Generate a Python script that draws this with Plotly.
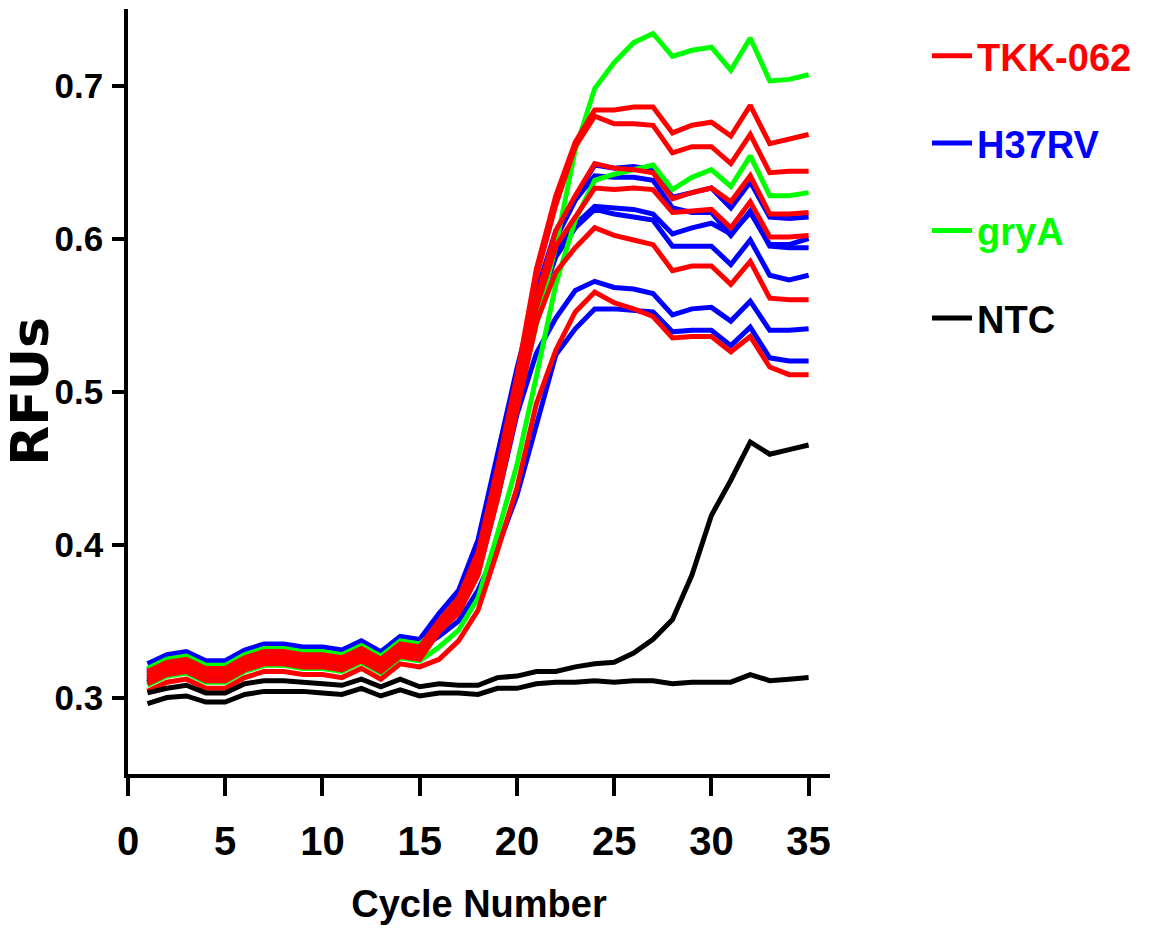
import plotly.graph_objects as go

cycles = list(range(1, 36))

# TKK-062 (red)
tkk_1 = [0.317, 0.323, 0.325, 0.319, 0.319, 0.326, 0.330, 0.330, 0.328, 0.328, 0.326, 0.332, 0.325, 0.335, 0.333,
         0.350, 0.365, 0.395, 0.450, 0.510, 0.580, 0.628, 0.663,
         0.684, 0.684, 0.686, 0.686, 0.669, 0.674, 0.676, 0.667, 0.687, 0.662, 0.665, 0.668]
tkk_2 = [0.315, 0.321, 0.323, 0.317, 0.317, 0.324, 0.328, 0.328, 0.326, 0.326, 0.324, 0.330, 0.323, 0.333, 0.331,
         0.348, 0.362, 0.392, 0.445, 0.505, 0.575, 0.622, 0.660,
         0.680, 0.675, 0.675, 0.674, 0.656, 0.660, 0.660, 0.649, 0.668, 0.643, 0.644, 0.644]
tkk_3 = [0.314, 0.320, 0.322, 0.316, 0.316, 0.323, 0.327, 0.327, 0.325, 0.325, 0.323, 0.329, 0.322, 0.332, 0.330,
         0.346, 0.360, 0.388, 0.440, 0.500, 0.560, 0.605, 0.628,
         0.649, 0.646, 0.645, 0.643, 0.626, 0.630, 0.633, 0.624, 0.641, 0.616, 0.616, 0.617]
tkk_4 = [0.312, 0.318, 0.320, 0.314, 0.314, 0.321, 0.325, 0.325, 0.323, 0.323, 0.321, 0.327, 0.320, 0.330, 0.328,
         0.345, 0.358, 0.385, 0.435, 0.495, 0.555, 0.595, 0.614,
         0.633, 0.632, 0.633, 0.632, 0.617, 0.618, 0.619, 0.607, 0.624, 0.601, 0.601, 0.602]
tkk_5 = [0.309, 0.315, 0.317, 0.311, 0.311, 0.318, 0.322, 0.322, 0.320, 0.320, 0.318, 0.324, 0.317, 0.327, 0.325,
         0.343, 0.355, 0.380, 0.430, 0.488, 0.545, 0.578, 0.594,
         0.607, 0.602, 0.599, 0.596, 0.579, 0.582, 0.582, 0.570, 0.585, 0.561, 0.560, 0.560]
tkk_6 = [0.304, 0.310, 0.312, 0.306, 0.306, 0.313, 0.317, 0.317, 0.315, 0.315, 0.313, 0.319, 0.312, 0.322, 0.320,
         0.325, 0.337, 0.357, 0.396, 0.437, 0.492, 0.527, 0.552,
         0.565, 0.558, 0.554, 0.549, 0.535, 0.536, 0.536, 0.526, 0.536, 0.516, 0.511, 0.511]

# H37RV (blue)
h37_1 = [0.322, 0.328, 0.330, 0.324, 0.324, 0.331, 0.335, 0.335, 0.333, 0.333, 0.331, 0.337, 0.330, 0.340, 0.338,
         0.355, 0.370, 0.403, 0.459, 0.515, 0.565, 0.605, 0.627,
         0.648, 0.646, 0.647, 0.645, 0.627, 0.630, 0.633, 0.620, 0.637, 0.614, 0.613, 0.614]
h37_2 = [0.318, 0.324, 0.326, 0.320, 0.320, 0.327, 0.331, 0.331, 0.329, 0.329, 0.327, 0.333, 0.326, 0.336, 0.334,
         0.350, 0.365, 0.395, 0.450, 0.505, 0.560, 0.600, 0.625,
         0.641, 0.640, 0.640, 0.638, 0.620, 0.617, 0.617, 0.602, 0.618, 0.595, 0.594, 0.594]
h37_3 = [0.311, 0.317, 0.319, 0.313, 0.313, 0.320, 0.324, 0.324, 0.322, 0.322, 0.320, 0.326, 0.319, 0.329, 0.327,
         0.345, 0.362, 0.392, 0.445, 0.500, 0.555, 0.590, 0.609,
         0.621, 0.620, 0.619, 0.616, 0.603, 0.607, 0.610, 0.603, 0.617, 0.596, 0.596, 0.600]
h37_4 = [0.310, 0.316, 0.318, 0.312, 0.312, 0.319, 0.323, 0.323, 0.321, 0.321, 0.319, 0.325, 0.318, 0.328, 0.326,
         0.345, 0.360, 0.390, 0.443, 0.498, 0.552, 0.588, 0.607,
         0.619, 0.616, 0.614, 0.612, 0.595, 0.595, 0.595, 0.583, 0.599, 0.576, 0.573, 0.576]
h37_5 = [0.313, 0.319, 0.321, 0.315, 0.315, 0.322, 0.326, 0.326, 0.324, 0.324, 0.322, 0.328, 0.321, 0.331, 0.329,
         0.345, 0.356, 0.382, 0.430, 0.485, 0.525, 0.548, 0.566,
         0.572, 0.568, 0.567, 0.564, 0.550, 0.554, 0.555, 0.546, 0.559, 0.540, 0.540, 0.541]
h37_6 = [0.316, 0.322, 0.324, 0.318, 0.318, 0.325, 0.329, 0.329, 0.327, 0.327, 0.325, 0.331, 0.324, 0.334, 0.332,
         0.340, 0.350, 0.370, 0.398, 0.432, 0.478, 0.524, 0.541,
         0.554, 0.554, 0.553, 0.552, 0.539, 0.540, 0.540, 0.530, 0.542, 0.522, 0.520, 0.520]

# gryA (green)
gry_1 = [0.319, 0.325, 0.327, 0.321, 0.321, 0.328, 0.332, 0.332, 0.330, 0.330, 0.328, 0.334, 0.327, 0.337, 0.335,
         0.345, 0.356, 0.383, 0.430, 0.492, 0.545, 0.595, 0.658,
         0.698, 0.715, 0.728, 0.734, 0.719, 0.723, 0.725, 0.710, 0.731, 0.703, 0.704, 0.707]
gry_2 = [0.308, 0.314, 0.316, 0.310, 0.310, 0.317, 0.321, 0.321, 0.319, 0.319, 0.317, 0.323, 0.316, 0.326, 0.324,
         0.333, 0.344, 0.365, 0.407, 0.452, 0.510, 0.570, 0.612,
         0.638, 0.642, 0.645, 0.648, 0.632, 0.640, 0.645, 0.634, 0.654, 0.628, 0.628, 0.630]

# NTC (black)
ntc_1 = [0.296, 0.300, 0.301, 0.297, 0.297, 0.302, 0.304, 0.304, 0.304, 0.303, 0.302, 0.306, 0.301, 0.305, 0.301,
         0.303, 0.303, 0.302, 0.306, 0.306, 0.309, 0.310, 0.310, 0.311, 0.310, 0.311, 0.311, 0.309, 0.310, 0.310,
         0.310, 0.315, 0.311, 0.312, 0.313]
ntc_2 = [0.303, 0.306, 0.308, 0.303, 0.303, 0.309, 0.311, 0.311, 0.310, 0.309, 0.308, 0.312, 0.307, 0.312, 0.307,
         0.309, 0.308, 0.308, 0.313, 0.314, 0.317, 0.317, 0.320, 0.322, 0.323, 0.329, 0.338, 0.351, 0.380, 0.419,
         0.442, 0.467, 0.459, 0.462, 0.465]

x_ticks = [0, 5, 10, 15, 20, 25, 30, 35]
y_ticks = [0.3, 0.4, 0.5, 0.6, 0.7]
y_ticktext = ["0.3", "0.4", "0.5", "0.6", "0.7"]

groups = [
    # (legend name, colour, series list, legend rank); drawing order blue, green, red, black
    ("H37RV", "#0000FF", [h37_1, h37_2, h37_3, h37_4, h37_5, h37_6], 2),
    ("gryA", "#00FF00", [gry_1, gry_2], 3),
    ("TKK-062", "#FF0000", [tkk_1, tkk_2, tkk_3, tkk_4, tkk_5, tkk_6], 1),
    ("NTC", "#000000", [ntc_1, ntc_2], 4),
]

SANS = "Liberation Sans, Arial, sans-serif"

fig = go.Figure()
for name, color, series, rank in groups:
    for i, ys in enumerate(series):
        fig.add_trace(go.Scatter(
            x=cycles, y=ys, mode="lines",
            line=dict(color=color, width=5),
            name=f"<span style='color:{color}'>{name}</span>",
            legendgroup=name,
            showlegend=(i == 0),
            legendrank=rank,
            hoverinfo="skip",
        ))

fig.update_layout(
    width=1153, height=943,
    margin=dict(l=128, r=323, t=9, b=169, autoexpand=False),
    paper_bgcolor="white", plot_bgcolor="white",
    legend=dict(
        xref="container", yref="container",
        x=0.804, y=0.974, xanchor="left", yanchor="top",
        font=dict(family=SANS, size=38, weight="bold", color="black"),
        tracegroupgap=35, itemwidth=40,
        bgcolor="rgba(0,0,0,0)",
    ),
)

fig.update_xaxes(
    range=[0, 36.1], tickvals=x_ticks, automargin=False,
    showline=True, linewidth=3.5, linecolor="black",
    ticks="outside", ticklen=18, tickwidth=3.5, tickcolor="black",
    showgrid=False, zeroline=False,
    tickfont=dict(family=SANS, size=40, weight="bold", color="black"),
    ticklabelstandoff=11,
    title=dict(text="Cycle Number", standoff=30,
               font=dict(family=SANS, size=38, weight="bold", color="black")),
)
fig.update_yaxes(
    range=[0.25, 0.75], tickvals=y_ticks, ticktext=y_ticktext, automargin=False,
    showline=True, linewidth=3.5, linecolor="black",
    ticks="outside", ticklen=12, tickwidth=3.5, tickcolor="black",
    showgrid=False, zeroline=False,
    tickfont=dict(family=SANS, size=35, weight="bold", color="black"),
    ticklabelstandoff=2,
    title=dict(text="RFUs", standoff=16,
               font=dict(family="DejaVu Sans, sans-serif", size=52, weight="bold", color="black")),
)

fig.write_html("out.html")
